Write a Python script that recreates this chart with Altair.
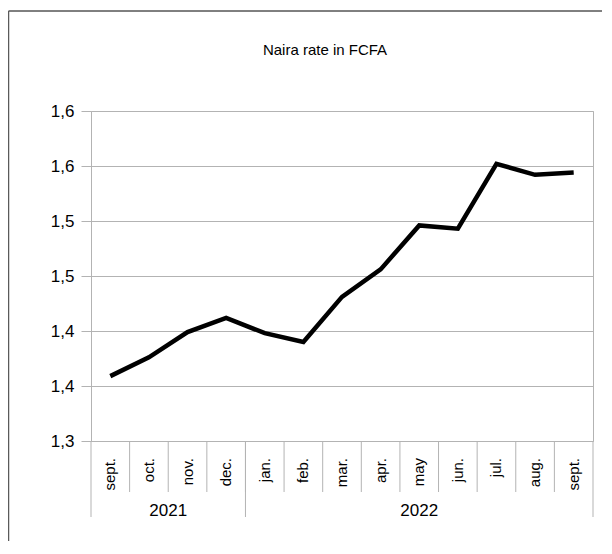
import json
import altair as alt
import pandas as pd

# ---- data ----
months = ["sept.", "oct.", "nov.", "dec.", "jan.", "feb.", "mar.",
          "apr.", "may", "jun.", "jul.", "aug.", "sept."]
years = ["2021"] * 4 + ["2022"] * 9
rates = [1.359, 1.376, 1.399, 1.412, 1.398, 1.390, 1.431,
         1.456, 1.496, 1.493, 1.552, 1.542, 1.544]
y_ticks = [1.30, 1.35, 1.40, 1.45, 1.50, 1.55, 1.60]
y_tick_labels = ["1,3", "1,4", "1,4", "1,5", "1,5", "1,6", "1,6"]
chart_title = "Naira rate in FCFA"

FONT = "Liberation Sans"
GRID = "#b3b3b3"
W, H = 502, 330

df = pd.DataFrame({"i": range(len(months)), "month": months,
                   "year": years, "rate": rates})
df["pos"] = df["i"] + 0.5

yr = df.groupby("year")["i"].agg(["min", "max"]).reset_index()
yr["center"] = (yr["min"] + yr["max"] + 1) / 2
year_bounds = sorted(set(yr["min"].tolist() + (yr["max"] + 1).tolist()))
sep_df = pd.DataFrame({"b": list(range(1, len(months)))})
ysep_df = pd.DataFrame({"b": year_bounds})

xscale = alt.Scale(domain=[0, len(months)], nice=False, zero=False)
label_expr = json.dumps(y_tick_labels) + "[round((datum.value - 1.3) / 0.05)]"

line = alt.Chart(df).mark_line(color="black", strokeWidth=4.5).encode(
    x=alt.X("pos:Q", scale=xscale, axis=None),
    y=alt.Y("rate:Q",
            scale=alt.Scale(domain=[1.30, 1.60], nice=False, zero=False),
            axis=alt.Axis(values=y_ticks, labelExpr=label_expr, title=None,
                          grid=True, gridColor=GRID, tickColor=GRID,
                          tickSize=10, domain=False, labelFontSize=17,
                          labelFont=FONT, labelColor="black",
                          labelPadding=7)),
)

month_sep = alt.Chart(sep_df).mark_rule(color=GRID).encode(
    x=alt.X("b:Q", scale=xscale, axis=None),
    y=alt.value(H), y2=alt.value(H + 51),
)
year_sep = alt.Chart(ysep_df).mark_rule(color=GRID).encode(
    x=alt.X("b:Q", scale=xscale, axis=None),
    y=alt.value(H), y2=alt.value(H + 76),
)
month_lbl = alt.Chart(df).mark_text(
    angle=270, align="right", baseline="middle", fontSize=15,
    font=FONT, color="black").encode(
    x=alt.X("pos:Q", scale=xscale, axis=None),
    y=alt.value(H + 17),
    text="month:N",
)
year_lbl = alt.Chart(yr).mark_text(
    align="center", baseline="middle", fontSize=17, font=FONT,
    color="black").encode(
    x=alt.X("center:Q", scale=xscale, axis=None),
    y=alt.value(H + 70),
    text="year:N",
)

frame_df = pd.DataFrame({"k": [0]})
frame_top = alt.Chart(frame_df).mark_rule(color="black", strokeWidth=1).encode(
    x=alt.value(-82.5), x2=alt.value(511), y=alt.value(-100))
frame_left = alt.Chart(frame_df).mark_rule(color="#5a5a5a", strokeWidth=1.5).encode(
    x=alt.value(-82.5), y=alt.value(-100), y2=alt.value(H + 110))

title_df = pd.DataFrame({"t": [chart_title]})
title_txt = alt.Chart(title_df).mark_text(
    align="center", baseline="alphabetic", fontSize=15, font=FONT,
    color="black").encode(
    x=alt.value(W / 2 - 17), y=alt.value(-56), text="t:N")

chart = alt.layer(
    frame_top, frame_left, month_sep, year_sep, line, month_lbl, year_lbl,
    title_txt
).properties(
    width=W, height=H,
    autosize=alt.AutoSizeParams(type="none"),
    padding={"left": 83, "top": 103, "right": 11, "bottom": 100},
).configure_view(stroke=GRID, strokeWidth=1)

chart.save("out.html", embed_options={"renderer": "svg", "actions": False})
